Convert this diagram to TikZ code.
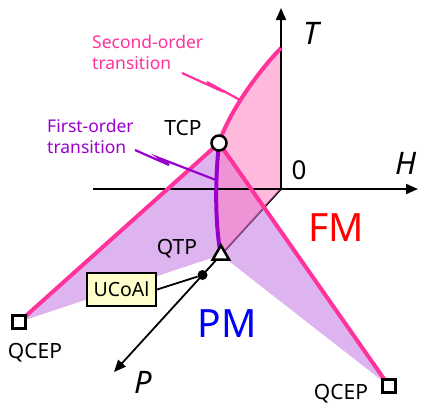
\documentclass[tikz,border=0pt]{standalone}
\usepackage{fontspec}
\setmainfont{Noto Sans}
\usetikzlibrary{arrows.meta,shapes.geometric,calc}
\definecolor{hotpink}{RGB}{255,51,153}
\definecolor{purp}{RGB}{153,0,204}
\definecolor{lavbase}{RGB}{190,105,225}
\definecolor{pinkbase}{RGB}{255,115,187}
\definecolor{ucoal}{RGB}{255,255,204}
\begin{document}
\begin{tikzpicture}[x=1pt,y=-1pt,
  axisline/.style={line width=1.8pt,-{Triangle[length=12pt,width=10pt]}},
  transline/.style={hotpink,line width=4pt},
  firstline/.style={purp,line width=4pt},
  wing/.style={fill=lavbase,fill opacity=0.5},
  fmsurf/.style={fill=pinkbase,fill opacity=0.5},
  pointer/.style={line width=2.2pt,line join=miter},
  lab/.style={inner sep=0pt,font=\fontsize{21}{25}\selectfont},
  desc/.style={inner sep=0pt,anchor=west,align=left,font=\fontsize{17.5}{21}\selectfont},
  axlab/.style={inner sep=0pt,font=\fontsize{31}{34}\selectfont\itshape},
  phase/.style={inner sep=0pt,font=\fontsize{39}{44}\selectfont},
  sqmark/.style={draw,line width=2.5pt,fill=white,minimum size=13pt,inner sep=0pt},
]
\useasboundingbox (0,0) rectangle (422,405);
% coordinates
\coordinate (O) at (281,189);
\coordinate (Ttip) at (281,8);
\coordinate (Hstart) at (93,189);
\coordinate (Htip) at (418,189);
\coordinate (Ptip) at (114,372);
\coordinate (Ttop) at (281,48);
\coordinate (TCPc) at (219,143);
\coordinate (QTPc) at ($(O)!0.36!(Ptip)$);
\coordinate (QL) at (19,322);
\coordinate (QR) at (389,386);
\coordinate (Dot) at ($(O)!0.47!(Ptip)$);
% P axis (behind surfaces)
\draw[axisline] (O) -- (Ptip);
% surfaces
\fill[wing] (TCPc) -- (QL) -- (QTPc) .. controls (215,225) and (215,180) .. (TCPc) -- cycle;
\fill[wing] (TCPc) -- (QR) -- (QTPc) .. controls (215,225) and (215,180) .. (TCPc) -- cycle;
\fill[fmsurf] (O) -- (Ttop) .. controls (255,75) and (228,115) .. (TCPc)
   .. controls (215,180) and (215,225) .. (QTPc) -- cycle;
% H and T axes
\draw[axisline] (Hstart) -- (Htip);
\draw[axisline] (O) -- (Ttip);
% transition lines
\draw[transline] (Ttop) .. controls (255,75) and (228,115) .. (TCPc);
\draw[transline] (TCPc) -- (QL);
\draw[transline] (TCPc) -- (QR);
\draw[firstline] (TCPc) .. controls (215,180) and (215,225) .. (QTPc);
% pointers
\draw[pointer,hotpink] (182,73) -- (215,88) -- (207,82) -- (240,100);
\draw[pointer,purp] (135,150) -- (169,165) -- (159,158) -- (216,180);
% markers
\node[circle,draw,line width=2.5pt,fill=white,minimum size=15pt,inner sep=0pt] (tcp) at (TCPc) {};
\node[regular polygon,regular polygon sides=3,draw,line width=2.5pt,fill=white,minimum size=19pt,inner sep=0pt] (qtp) at (QTPc) {};
\node[sqmark] (qcepl) at (QL) {};
\node[sqmark] (qcepr) at (QR) {};
\node[circle,fill=black,minimum size=10pt,inner sep=0pt] (dot) at (Dot) {};
\node[draw,line width=2.2pt,fill=ucoal,minimum width=69pt,minimum height=33pt,inner sep=0pt,font=\fontsize{19.5}{23}\selectfont] (ucoal) at (121.5,289.5) {UCoAl};
\draw[line width=1.8pt] (ucoal.east) -- (dot);
% labels
\node[desc,hotpink] (sol) at (92,52.5) {Second-order\\transition};
\node[desc,purp] (fol) at (47,136.5) {First-order\\transition};
\node[lab] (tcpl) at (183,128) {TCP};
\node[lab] (qtpl) at (177,249) {QTP};
\node[lab] (qlpl) at (35,353) {QCEP};
\node[lab] (qrpl) at (341,394) {QCEP};
\node[phase,red] (fm) at (336,228) {FM};
\node[phase,blue] (pm) at (227,324) {PM};
\node[axlab] (tl) at (311,33) {T};
\node[axlab] (hl) at (406,163) {H};
\node[axlab] (pl) at (143,382) {P};
\node[inner sep=0pt,font=\fontsize{26}{30}\selectfont] (zero) at (299,170) {0};
\end{tikzpicture}
\end{document}
